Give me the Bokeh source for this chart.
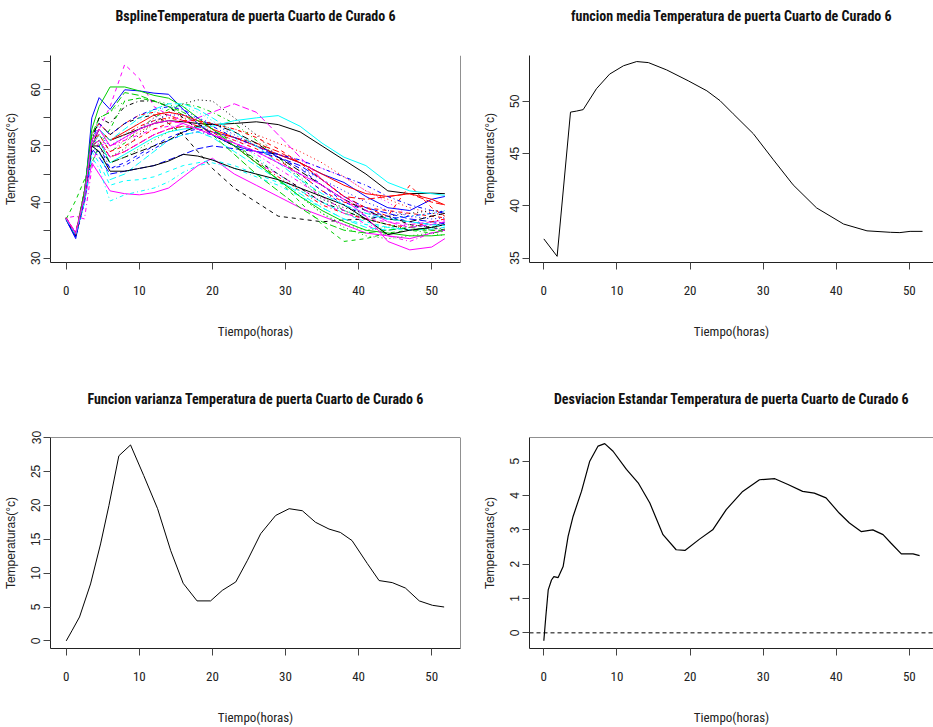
from bokeh.plotting import figure
from bokeh.layouts import column, row
from bokeh.models import Range1d, FixedTicker, Span, Title, LinearAxis
from bokeh.embed import file_html
from bokeh.resources import INLINE

# ---------------- data ----------------
t_grid = [0, 1.3, 2.5, 3.5, 4.5, 6, 8, 10, 12, 14, 16, 18, 20, 23, 26, 29, 32, 35, 38, 41, 44, 47, 50, 51.8]

bspline_curves = [
    [37.0, 34.0, 41, 50, 53, 51, 52, 53, 54, 54.5, 54.3, 54, 53.8, 54, 54.3, 53.8, 52.5, 50, 47.5, 45, 42, 41.5, 41.6, 41.5],
    [37.2, 34.5, 42, 52, 54, 52, 54, 55.5, 56, 55.5, 54.5, 53.5, 52.5, 51, 49.5, 47.5, 45, 42, 40, 39, 38.5, 38, 37.5, 37.2],
    [37.0, 34.2, 41, 51, 55, 56, 58, 58.5, 58, 57.5, 56, 54.5, 53, 50, 47, 44, 41, 38, 36, 35, 35.5, 36, 35.5, 35.2],
    [36.8, 33.8, 40, 49, 50, 46, 46.5, 48, 49.5, 51, 52, 52.5, 52, 50.5, 49, 47, 45, 42, 39.5, 37.5, 37, 37.5, 38, 38.2],
    [37.1, 34.0, 41, 50, 49, 44, 45, 47, 49, 51, 52, 52.5, 51.5, 49, 46.5, 44, 41.5, 39, 37, 35.5, 35, 35.5, 36, 35.8],
    [37.0, 34.5, 40, 47, 45, 42, 41.5, 41.3, 41.7, 42.5, 44.5, 46.5, 47.8, 45, 43, 41, 39, 37.5, 36, 34.5, 34, 33.5, 34.5, 35],
    [37.2, 34.0, 42, 52, 54, 52, 54, 55, 55.5, 54, 52, 49, 46, 42.5, 40, 37.5, 37, 36.5, 36.8, 37, 37.5, 36, 35.5, 35],
    [37.0, 34.3, 41, 51, 53, 50, 51, 52.5, 54, 55, 55, 54.5, 54, 53, 52, 50.5, 49, 47, 44.5, 42, 40.5, 39, 38, 37.8],
    [37.1, 34.1, 41, 50, 52, 49, 50.5, 53, 55, 56.5, 57.5, 57, 56, 54, 51, 48, 44.5, 41, 38.5, 37, 36, 35, 34.5, 34.8],
    [36.9, 33.9, 40.5, 49.5, 48, 45, 45.5, 46, 46.5, 47.5, 48.5, 49.5, 50, 49.5, 49, 48, 46.5, 44, 41, 39, 38, 37, 36.5, 36.3],
    [37.0, 34.0, 41, 50, 51, 47, 48.5, 50, 51.5, 52.5, 53, 53.3, 53.5, 54.5, 55, 55.4, 53.5, 50.5, 48, 46.5, 43.5, 42, 41.5, 41.2],
    [37.2, 34.3, 42, 50, 53, 57, 64.5, 62, 57, 55.5, 54.5, 53.5, 52.5, 50, 47, 45, 42.5, 40, 38, 37, 36.5, 36, 36.5, 36.8],
    [37.0, 34.2, 41, 50, 51, 48, 49.5, 52, 54, 56, 57.5, 58.2, 58, 55, 52, 48, 44, 40.5, 39, 38, 37.5, 38, 38.5, 38.3],
    [37.1, 34.0, 41, 51, 53, 51, 52, 53.5, 54.5, 55, 54.5, 53.5, 52.5, 50, 47, 44.5, 42, 39.5, 38, 37, 36, 35.5, 36.5, 37],
    [37.0, 34.4, 42, 52, 55, 56, 59.5, 59, 58, 57, 55.5, 54, 52, 48.5, 45, 42, 39, 36.5, 35, 34.5, 35, 35.5, 35, 35],
    [36.8, 33.5, 41, 55, 58.6, 56.5, 60, 59.8, 59.4, 59.2, 56.5, 54, 52, 50, 49, 48.5, 47, 45, 43.5, 41, 39, 38.5, 40.5, 41],
    [37.0, 34.1, 40, 49, 47, 43, 43.8, 44, 44.5, 45.5, 46.5, 47, 47.5, 46.5, 45, 43.5, 42, 40, 38, 36.5, 35.5, 35, 35.5, 36],
    [37.2, 34.6, 41, 50, 51, 49, 51, 53, 55, 56, 55.5, 54, 52.5, 51, 50, 48.5, 47.5, 46, 44.5, 42, 40, 37.5, 35, 35.5],
    [37.0, 34.0, 41, 51, 55, 54, 57, 58, 58, 57, 55, 53, 52, 50, 47.5, 45, 42.5, 40, 38.5, 37, 36, 35, 35.5, 36.5],
    [37.1, 34.3, 41, 50, 51, 48, 49, 50.5, 52, 53, 53.5, 53, 52.5, 51.5, 50.5, 49, 47, 44, 41, 40.5, 41, 41.5, 40, 39.5],
    [37.0, 34.2, 42, 53, 57, 60.5, 60.5, 59.8, 59, 58.5, 57, 55, 53, 50, 47, 44, 41, 38.5, 36.5, 35, 34.5, 34, 34, 34.2],
    [36.9, 33.8, 40, 49, 49, 46, 47, 48.5, 50, 51.5, 52.5, 53, 52.5, 51.5, 50, 48, 46, 43, 40, 38.5, 37.5, 36.5, 36, 36.2],
    [37.0, 34.0, 41, 50, 52, 50, 52, 54.5, 56, 57, 57, 56, 54.5, 51.5, 48, 45, 42, 40, 38.5, 37.5, 37, 37.5, 38, 38.5],
    [37.2, 37.5, 37, 46, 51, 50, 51, 52, 53, 53.5, 53.5, 53, 52, 50.5, 48.5, 46, 43.5, 41, 38.5, 36, 34, 33, 34.5, 35],
    [37.1, 34.1, 41, 50, 50, 47, 48, 49, 50, 51, 52.5, 53.5, 54, 52.5, 50.5, 48, 45.5, 43, 40.5, 38.5, 37, 36.5, 37.5, 38],
    [37.0, 34.4, 41, 51, 53, 51, 52.5, 54, 55.5, 56, 55.5, 54.5, 53, 51.5, 50, 48.5, 47, 45, 43, 41.5, 41, 41.5, 40.5, 39.5],
    [37.0, 40.3, 44, 47, 50, 53, 58, 58.5, 58, 57, 56, 54.5, 53, 50.5, 47.5, 44, 40, 36, 33, 33.5, 34.5, 35, 35, 34.8],
    [36.9, 33.9, 41, 50, 52, 50, 51.5, 53, 54.5, 55.5, 55.5, 55, 54, 52, 50, 48, 46, 44, 42, 40, 38.5, 37.5, 37, 37.2],
    [37.0, 34.0, 40, 48, 46, 40.2, 41.3, 41.9, 42.5, 43.6, 45.3, 46.5, 47, 46, 44.5, 43, 41, 39, 37, 36, 35.5, 35, 35.2, 35.5],
    [37.2, 34.5, 41, 50, 51, 48, 49, 50.5, 52, 53, 54, 55, 56, 57.5, 56, 52, 48, 44, 41, 38.5, 36.5, 35.5, 36, 36.5],
    [37.0, 34.0, 41, 50, 49, 45.5, 45.5, 46, 46.5, 47.3, 48.5, 48.2, 47.5, 46, 45, 44, 42.5, 41, 39.5, 37, 34.2, 35, 35.5, 36],
    [37.1, 34.2, 41, 51, 52, 49, 50, 51.5, 53, 54, 54.5, 54.5, 54, 53, 51.5, 49.5, 47, 44, 41, 39, 37.5, 43, 39, 37.5],
    [37.0, 34.3, 41, 50, 51, 47, 48, 49.5, 51, 52.5, 53.5, 53.5, 52.5, 50, 47, 44, 41, 38, 35.5, 34, 33.5, 34, 34.5, 34],
    [36.9, 33.8, 41, 51, 54, 52, 54, 55.5, 56.5, 57, 56.5, 55, 53.5, 51.5, 50, 48.5, 47.5, 46, 44.5, 43, 41, 39.5, 38.5, 38.2],
    [37.0, 34.1, 41, 51, 53, 51, 53, 55, 56.5, 57.5, 57.5, 56.5, 55, 52.5, 50, 47, 44, 41.5, 39.5, 38, 37, 36.5, 36, 35.8],
    [37.1, 34.4, 41, 51, 53, 50, 51.5, 53, 54, 54.5, 54, 53, 52, 50.5, 49, 47, 45, 43, 40.5, 37.5, 33, 31.5, 32, 33.5],
]

mean_t = [0, 1.82, 3.65, 4.47, 5.38, 7.2, 9.0, 10.9, 12.7, 14.3, 16.8, 19.75, 22.3, 24.1, 25.9,
          28.65, 31.4, 34.1, 37.3, 41.0, 44.2, 47.4, 48.7, 50.1, 51.8]
mean_v = [36.83, 35.16, 48.96, 49.06, 49.2, 51.2, 52.6, 53.4, 53.8, 53.7, 53.0, 51.96, 51.0, 50.06, 48.8,
          46.9, 44.4, 42.0, 39.8, 38.25, 37.6, 37.46, 37.43, 37.55, 37.55]

var_t = [0, 0.82, 1.82, 3.33, 4.7, 5.84, 7.2, 8.8, 10.6, 12.5, 14.3, 16.0, 17.9, 19.75, 21.35, 23.2,
         24.8, 26.6, 28.65, 30.5, 32.3, 34.1, 35.95, 37.5, 39.1, 41.2, 42.8, 44.6, 46.4, 48.3, 50.1, 51.7]
var_v = [0, 1.57, 3.53, 8.4, 14.3, 19.95, 27.3, 28.9, 24.4, 19.5, 13.3, 8.5, 5.9, 5.9, 7.45, 8.7,
         11.9, 15.8, 18.5, 19.5, 19.2, 17.5, 16.5, 16.0, 14.8, 11.4, 8.9, 8.6, 7.8, 5.9, 5.25, 5.0]

sd_t = [0, 0.27, 0.6, 1.05, 1.37, 1.96, 2.64, 3.32, 4.0, 5.15, 6.28, 7.42, 8.33, 9.47, 11.3, 12.9,
        14.5, 16.3, 18.1, 19.3, 21.3, 23.1, 24.95, 27.2, 29.5, 31.6, 33.4, 35.4, 37.0, 38.6, 40.4,
        41.8, 43.4, 45.0, 46.4, 47.5, 48.9, 50.5, 51.4]
sd_v = [-0.23, 0.47, 1.25, 1.54, 1.64, 1.61, 1.93, 2.81, 3.39, 4.12, 5.0, 5.44, 5.51, 5.29, 4.76, 4.37,
        3.78, 2.86, 2.42, 2.40, 2.73, 3.0, 3.59, 4.12, 4.46, 4.49, 4.32, 4.12, 4.07, 3.93, 3.49,
        3.2, 2.95, 3.0, 2.86, 2.61, 2.3, 2.3, 2.25]

x_ticks = [0, 10, 20, 30, 40, 50]
y_ticks_spline = [30, 35, 40, 45, 50, 55, 60, 65]
y_labels_spline = {30: "30", 35: "", 40: "40", 45: "", 50: "50", 55: "", 60: "60", 65: ""}
y_ticks_mean = [35, 40, 45, 50]
y_ticks_var = [0, 5, 10, 15, 20, 25, 30]
y_ticks_sd = [0, 1, 2, 3, 4, 5]

titles = [
    "BsplineTemperatura de puerta Cuarto de Curado 6",
    "funcion media Temperatura de puerta Cuarto de Curado 6",
    "Funcion varianza Temperatura de puerta Cuarto de Curado 6",
    "Desviacion Estandar Temperatura de puerta Cuarto de Curado 6",
]
x_label = "Tiempo(horas)"
y_label = "Temperaturas(°c)"

r_colors = ["black", "red", "#00CD00", "blue", "cyan", "magenta"]
r_dashes = ["solid", "4 4", "1 3", "1 3 4 3", "7 3"]

NARROW = "'Liberation Sans Narrow', 'Arial Narrow', 'Roboto Condensed', sans-serif"
REG = "'Liberation Sans', Arial, sans-serif"


def make_fig(width, height, xr, yr, borders, title, yticks, ylabels=None, title_gap=25):
    left, right, top, bottom = borders
    p = figure(width=width, height=height, output_backend="svg", toolbar_location=None,
               title=None, x_range=Range1d(*xr), y_range=Range1d(*yr),
               min_border_left=left, min_border_right=right,
               min_border_top=top, min_border_bottom=bottom)
    p.background_fill_color = "white"
    p.border_fill_color = "white"
    p.outline_line_color = None
    p.xgrid.visible = False
    p.ygrid.visible = False

    xa = p.below[0]
    xa.ticker = FixedTicker(ticks=x_ticks)
    xa.axis_label = x_label
    xa.axis_label_text_font = NARROW
    xa.axis_label_text_font_size = "13px"
    xa.axis_label_text_font_style = "normal"
    xa.axis_label_text_color = "#222222"
    xa.axis_label_standoff = 26
    xa.major_label_text_font = NARROW
    xa.major_label_text_font_size = "13px"
    xa.major_label_text_color = "#222222"
    xa.major_label_standoff = 16
    xa.major_tick_in = 0
    xa.major_tick_out = 7
    xa.minor_tick_line_color = None
    xa.axis_line_color = "#222222"
    xa.major_tick_line_color = "#444444"

    ya = p.left[0]
    ya.ticker = FixedTicker(ticks=yticks)
    if ylabels:
        ya.major_label_overrides = ylabels
    ya.axis_label = y_label
    ya.axis_label_text_font = REG
    ya.axis_label_text_font_size = "12px"
    ya.axis_label_text_font_style = "normal"
    ya.axis_label_text_color = "#222222"
    ya.axis_label_standoff = 11
    ya.major_label_orientation = "vertical"
    ya.major_label_text_font = REG
    ya.major_label_text_font_size = "12px"
    ya.major_label_text_color = "#222222"
    ya.major_label_standoff = 3
    ya.major_tick_in = 0
    ya.major_tick_out = 7
    ya.minor_tick_line_color = None
    ya.axis_line_color = "#222222"
    ya.major_tick_line_color = "#444444"

    # blank spacer axis between the frame and the title (blank label gives it height)
    spacer = LinearAxis(ticker=FixedTicker(ticks=[]), axis_line_color=None,
                        major_tick_line_color=None, minor_tick_line_color=None,
                        major_tick_in=0, major_tick_out=0, minor_tick_out=0,
                        axis_label=" ", axis_label_text_font_size="10px",
                        axis_label_standoff=title_gap - 12)
    p.add_layout(spacer, "above")
    p.add_layout(Title(text=title, align="center", text_font=NARROW, text_font_size="14px",
                       text_font_style="bold", text_color="#111111", standoff=10), "above")
    return p


# Panel 1: B-spline curves
p1 = make_fig(466, 375, (-2.15, 53.94), (29.25, 66.1), (50, 6, 53, 113), titles[0],
              y_ticks_spline, y_labels_spline)
for i, vals in enumerate(bspline_curves):
    p1.line(t_grid, vals, line_color=r_colors[i % 6], line_dash=r_dashes[i % 5], line_width=1)
p1.add_layout(Span(location=53.94, dimension="height", line_color="#222222", line_width=1))

# Panel 2: mean
p2 = make_fig(467, 375, (-1.96, 53.3), (34.57, 54.38), (63, 0, 53, 113), titles[1], y_ticks_mean)
p2.line(mean_t, mean_v, line_color="black", line_width=1)

# Panel 3: variance
p3 = make_fig(466, 352, (-2.15, 53.94), (-1.12, 30.0), (50, 6, 62, 79), titles[2], y_ticks_var,
              title_gap=24)
p3.line(var_t, var_v, line_color="black", line_width=1)
p3.add_layout(Span(location=53.94, dimension="height", line_color="#222222", line_width=1))
p3.add_layout(Span(location=30.0, dimension="width", line_color="#222222", line_width=1))

# Panel 4: std deviation
p4 = make_fig(467, 352, (-1.96, 53.3), (-0.456, 5.69), (63, 0, 62, 79), titles[3], y_ticks_sd,
              title_gap=24)
p4.line(sd_t, sd_v, line_color="black", line_width=1.2)
p4.add_layout(Span(location=0, dimension="width", line_color="black", line_width=1, line_dash="4 3"))
p4.add_layout(Span(location=5.69, dimension="width", line_color="#222222", line_width=1))

layout = column(row(p1, p2), row(p3, p4))
open("out.html", "w").write(file_html(layout, INLINE))
